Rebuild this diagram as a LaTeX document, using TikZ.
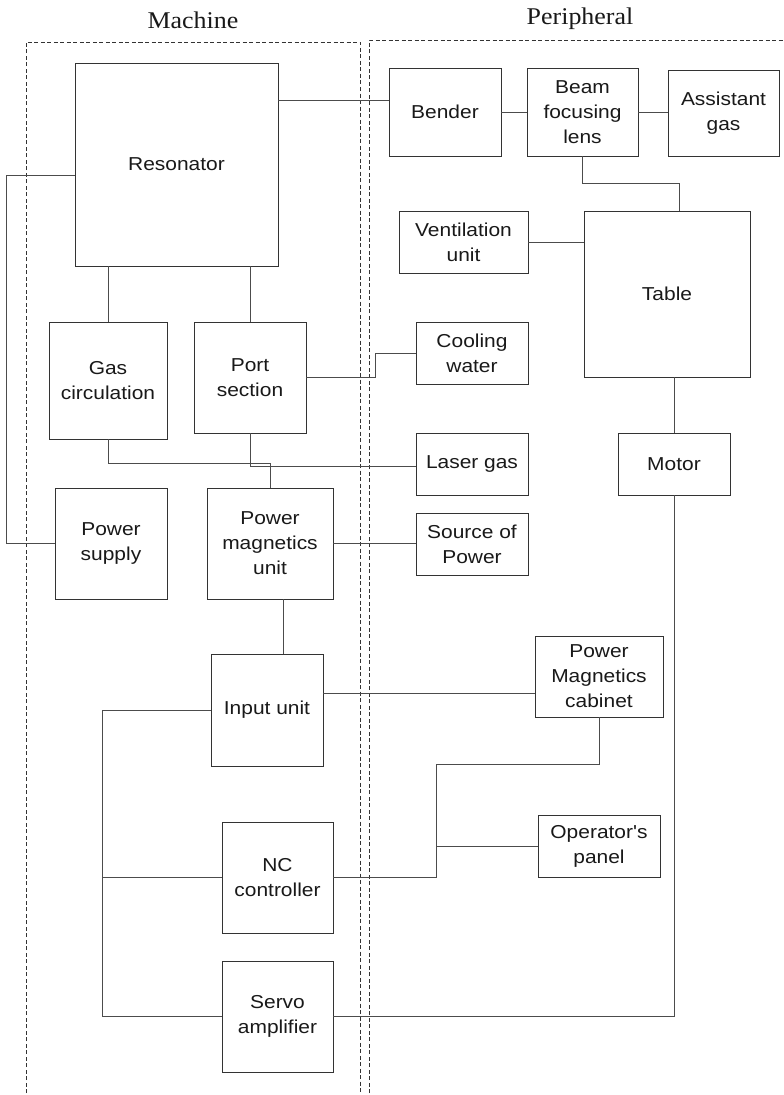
\documentclass[tikz,border=0pt]{standalone}
\usepackage{fontspec}
\setmainfont{Liberation Sans}[FakeStretch=1.12, Ligatures=TeXOff]
\newfontfamily\titlefont{Liberation Serif}[FakeStretch=1.08]
\begin{document}
\begin{tikzpicture}[x=1pt,y=-1pt,
  blk/.style={draw=black!80, line width=0.9pt, inner sep=0pt, align=center,
    font=\fontsize{18.7}{25}\selectfont, text=black!90},
  wh/.style 2 args={minimum width=#1pt, minimum height=#2pt},
  wire/.style={draw=black!70, line width=0.8pt},
  frame/.style={draw=black!80, line width=0.8pt, dash pattern=on 4pt off 2.5pt},
  ttl/.style={font=\titlefont\fontsize{24}{28}\selectfont, text=black!90, anchor=base, inner sep=0pt}]
\fill[white] (0,0) rectangle (784,1095);
\useasboundingbox (0,0) rectangle (784,1095);

% titles
\node[ttl] (tm) at (193,28) {Machine};
\node[ttl] (tp) at (580,24) {Peripheral};

% frames
\draw[frame] (26,1093) -- (26,42) -- (360,42) -- (360,1093);
\draw[frame] (369,1093) -- (369,40) -- (784,40);

% machine boxes
\node[blk, wh={203}{203}] (res) at (176.5,164.5) {Resonator};
\node[blk, wh={118}{117}] (gasc) at (108,380.5) {Gas\\circulation};
\node[blk, wh={112}{111}] (port) at (250,377.5) {Port\\section};
\node[blk, wh={112}{111}] (psup) at (111,543.5) {Power\\supply};
\node[blk, wh={126}{111}] (pmu) at (270,543.5) {Power\\magnetics\\unit};
\node[blk, wh={112}{112}] (input) at (267,710) {Input unit};
\node[blk, wh={111}{111}] (nc) at (277.5,877.5) {NC\\controller};
\node[blk, wh={111}{111}] (servo) at (277.5,1016.5) {Servo\\amplifier};

% peripheral boxes
\node[blk, wh={112}{88}] (bender) at (445,112) {Bender};
\node[blk, wh={111}{88}] (lens) at (582.5,112) {Beam\\focusing\\lens};
\node[blk, wh={111}{86}] (assist) at (723.5,113) {Assistant\\gas};
\node[blk, wh={129}{62}] (vent) at (463.5,242) {Ventilation\\unit};
\node[blk, wh={166}{166}] (table) at (667,294) {Table};
\node[blk, wh={112}{62}] (cool) at (472,353) {Cooling\\water};
\node[blk, wh={112}{62}] (lgas) at (472,464) {Laser gas};
\node[blk, wh={112}{62}] (src) at (472,544) {Source of\\Power};
\node[blk, wh={112}{62}] (motor) at (674,464) {Motor};
\node[blk, wh={128}{81}] (pmc) at (599,676.5) {Power\\Magnetics\\cabinet};
\node[blk, wh={122}{62}] (op) at (599,846) {Operator's\\panel};

% connectors
\draw[wire] (res.east |- 0,100) -- (bender.west |- 0,100);
\draw[wire] (bender.east) -- (lens.west);
\draw[wire] (lens.east) -- (lens.east -| assist.west);
\coordinate (c1) at (679,183);
\draw[wire] (lens.south) |- (c1) -- (c1 |- table.north);
\draw[wire] (vent.east) -- (vent.east -| table.west);
\draw[wire] (res.west |- 0,175) -- ++(-68,0) |- (psup.west);
\draw[wire] (gasc.north |- res.south) -- (gasc.north);
\draw[wire] (port.north |- res.south) -- (port.north);
\draw[wire] (port.east) -- ++(69,0) |- (cool.west);
\draw[wire] (gasc.south) -- ++(0,24) -| (pmu.north);
\draw[wire] (port.south) |- (lgas.west |- 0,466);
\draw[wire] (pmu.east) -- (pmu.east -| src.west);
\draw[wire] (pmu.south -| 283,0) -- (input.north -| 283,0);
\draw[wire] (input.east |- 0,693) -- (pmc.west |- 0,693);
\draw[wire] (input.west) -- ++(-108,0) |- (servo.west);
\draw[wire] (nc.west) -- (nc.west -| 103,0);
\draw[wire] (nc.east) -| (436,764) -| (pmc.south);
\draw[wire] (op.west) -- (op.west -| 436,0);
\draw[wire] (servo.east) -| (motor.south);
\draw[wire] (motor.north |- table.south) -- (motor.north);
\end{tikzpicture}
\end{document}
